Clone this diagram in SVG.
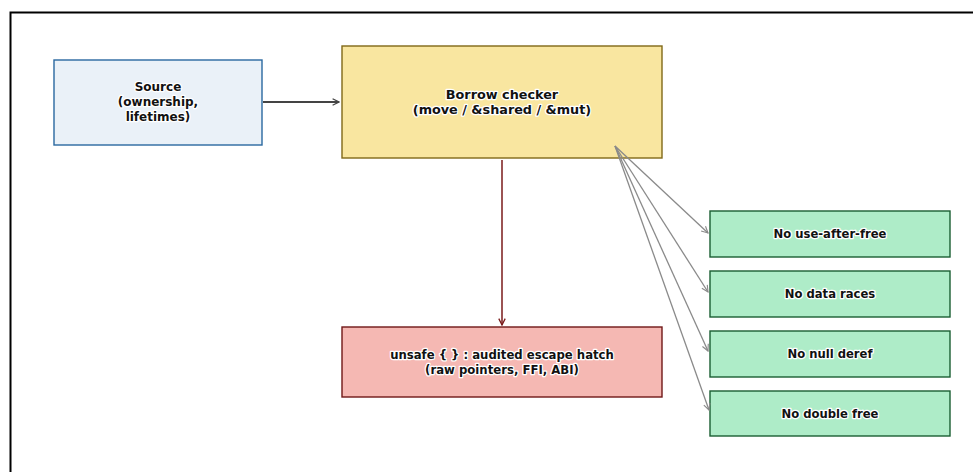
<svg xmlns="http://www.w3.org/2000/svg" width="973" height="472" viewBox="0 0 973 472">
<defs>
<style>
text{font-family:"DejaVu Sans",sans-serif;font-weight:bold;font-size:12px;fill:#111;text-anchor:middle;stroke:#fff;stroke-width:2.5px;paint-order:stroke;stroke-linejoin:round}
#borrow text{font-size:12.8px}
#unsafe text{font-size:11.7px}
.g text{font-size:11.6px}
.g rect{fill:#aeecc8;stroke:#1a5e32;stroke-width:1.4}
</style>
<marker id="ad" viewBox="0 0 10 10" refX="9" refY="5" markerWidth="8" markerHeight="8" orient="auto" markerUnits="userSpaceOnUse"><path d="M1,1 L9,5 L1,9" fill="none" stroke="#444" stroke-width="1.6"/></marker>
<marker id="ar" viewBox="0 0 10 10" refX="9" refY="5" markerWidth="8" markerHeight="8" orient="auto" markerUnits="userSpaceOnUse"><path d="M1,1 L9,5 L1,9" fill="none" stroke="#7a1a1a" stroke-width="1.6"/></marker>
<marker id="ag" viewBox="0 0 10 10" refX="9" refY="5" markerWidth="8" markerHeight="8" orient="auto" markerUnits="userSpaceOnUse"><path d="M1,1 L9,5 L1,9" fill="none" stroke="#8a8a8a" stroke-width="1.4"/></marker>
</defs>
<rect width="973" height="472" fill="#fff"/>
<rect x="10.5" y="12.5" width="980" height="480" fill="none" stroke="#000" stroke-width="2"/>
<g id="source"><rect x="54" y="60" width="208" height="85" fill="#eaf1f8" stroke="#2a68a0" stroke-width="1.4"/><text x="158" y="91">Source</text><text x="158" y="106">(ownership,</text><text x="158" y="121">lifetimes)</text></g>
<g id="borrow"><rect x="342" y="46" width="320" height="112" fill="#f9e6a0" stroke="#806818" stroke-width="1.4"/><text x="502" y="99">Borrow checker</text><text x="502" y="114">(move / &amp;shared / &amp;mut)</text></g>
<g id="unsafe"><rect x="342" y="327" width="320" height="70" fill="#f5b8b3" stroke="#701818" stroke-width="1.4"/><text x="502" y="359">unsafe { } : audited escape hatch</text><text x="502" y="374">(raw pointers, FFI, ABI)</text></g>
<g id="uaf" class="g"><rect x="710" y="211" width="240" height="46"/><text x="830" y="238">No use-after-free</text></g>
<g id="races" class="g"><rect x="710" y="271" width="240" height="46"/><text x="830" y="298">No data races</text></g>
<g id="null" class="g"><rect x="710" y="331" width="240" height="46"/><text x="830" y="358">No null deref</text></g>
<g id="dfree" class="g"><rect x="710" y="391" width="240" height="45"/><text x="830" y="418">No double free</text></g>
<g id="connectors" fill="none">
<line x1="263" y1="102" x2="339" y2="102" stroke="#444" stroke-width="1.8" marker-end="url(#ad)"/>
<line x1="502" y1="160" x2="502" y2="325" stroke="#7a1a1a" stroke-width="1.5" marker-end="url(#ar)"/>
<g stroke="#8a8a8a" stroke-width="1.3" marker-end="url(#ag)">
<line x1="615" y1="146" x2="708" y2="233"/>
<line x1="615" y1="146" x2="708" y2="292"/>
<line x1="615" y1="146" x2="708" y2="351"/>
<line x1="615" y1="146" x2="709" y2="410"/>
</g>
</g>
</svg>
